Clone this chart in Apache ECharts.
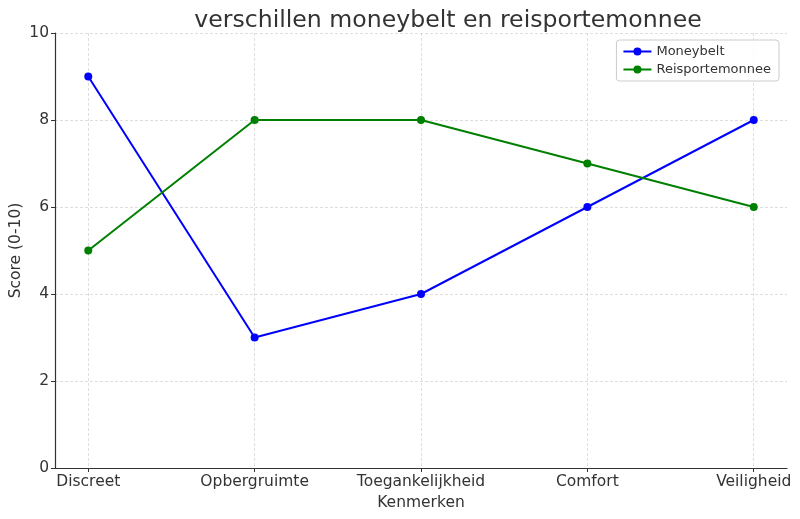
<!DOCTYPE html>
<html>
<head>
<meta charset="utf-8">
<script src="https://cdn.jsdelivr.net/npm/echarts@6/dist/echarts.min.js"></script>
<style>html,body{margin:0;padding:0;background:#fff}#c{width:800px;height:519px}</style>
</head>
<body>
<div id="c"></div>
<script>
const categories = ['Discreet', 'Opbergruimte', 'Toegankelijkheid', 'Comfort', 'Veiligheid'];
const moneybelt = [9, 3, 4, 6, 8];
const reisportemonnee = [5, 8, 8, 7, 6];
const yTicks = [0, 2, 4, 6, 8, 10];
const xIdx = categories.map((c, i) => i);

const font = 'DejaVu Sans';
const chart = echarts.init(document.getElementById('c'), null, {renderer: 'canvas'});
chart.setOption({
  animation: false,
  backgroundColor: '#fff',
  textStyle: {fontFamily: font},
  title: {
    text: 'verschillen moneybelt en reisportemonnee',
    left: 443, top: 4, textAlign: 'center',
    textStyle: {fontFamily: font, fontSize: 23.6, fontWeight: 'normal', color: '#333'}
  },
  legend: {
    right: 21, top: 40, orient: 'vertical',
    itemWidth: 28, itemHeight: 10, itemGap: 5,
    borderColor: '#ccc', borderWidth: 1, borderRadius: 3,
    padding: [5, 8, 5, 6],
    backgroundColor: 'rgba(255,255,255,0.8)',
    textStyle: {fontFamily: font, fontSize: 13, color: '#333'},
    data: ['Moneybelt', 'Reisportemonnee']
  },
  grid: {left: 55, right: 13, top: 33, bottom: 51, containLabel: false, outerBoundsMode: 'none'},
  xAxis: {
    type: 'value', min: -0.2, max: 4.2,
    name: 'Kenmerken', nameLocation: 'middle', nameGap: 27,
    nameTextStyle: {fontFamily: font, fontSize: 15.5, color: '#333'},
    axisLine: {show: true, onZero: false, lineStyle: {color: '#333', width: 1.2}},
    axisTick: {show: true, length: 4, customValues: xIdx, lineStyle: {color: '#333'}},
    axisLabel: {customValues: xIdx, margin: 6, fontFamily: font, fontSize: 15.5, color: '#333',
      formatter: v => categories[Math.round(v)] || ''},
    splitLine: {show: true, customValues: xIdx, lineStyle: {color: '#d0d0d0', type: [3, 2], width: 0.7}}
  },
  yAxis: {
    type: 'value', min: 0, max: 10, interval: 2,
    name: 'Score (0-10)', nameLocation: 'middle', nameGap: 31, nameMoveOverlap: false,
    nameTextStyle: {fontFamily: font, fontSize: 15.5, color: '#333'},
    axisLine: {show: true, onZero: false, lineStyle: {color: '#333', width: 1.2}},
    axisTick: {show: true, length: 4, lineStyle: {color: '#333'}},
    axisLabel: {margin: 6, fontFamily: font, fontSize: 15.5, color: '#333'},
    splitLine: {show: true, lineStyle: {color: '#d0d0d0', type: [3, 2], width: 0.7}}
  },
  series: [
    {
      name: 'Moneybelt', type: 'line',
      data: moneybelt.map((v, i) => [i, v]),
      symbol: 'circle', symbolSize: 8,
      itemStyle: {color: '#0000ff'}, lineStyle: {color: '#0000ff', width: 2}
    },
    {
      name: 'Reisportemonnee', type: 'line',
      data: reisportemonnee.map((v, i) => [i, v]),
      symbol: 'circle', symbolSize: 8,
      itemStyle: {color: '#008000'}, lineStyle: {color: '#008000', width: 2}
    }
  ]
});
</script>
</body>
</html>
